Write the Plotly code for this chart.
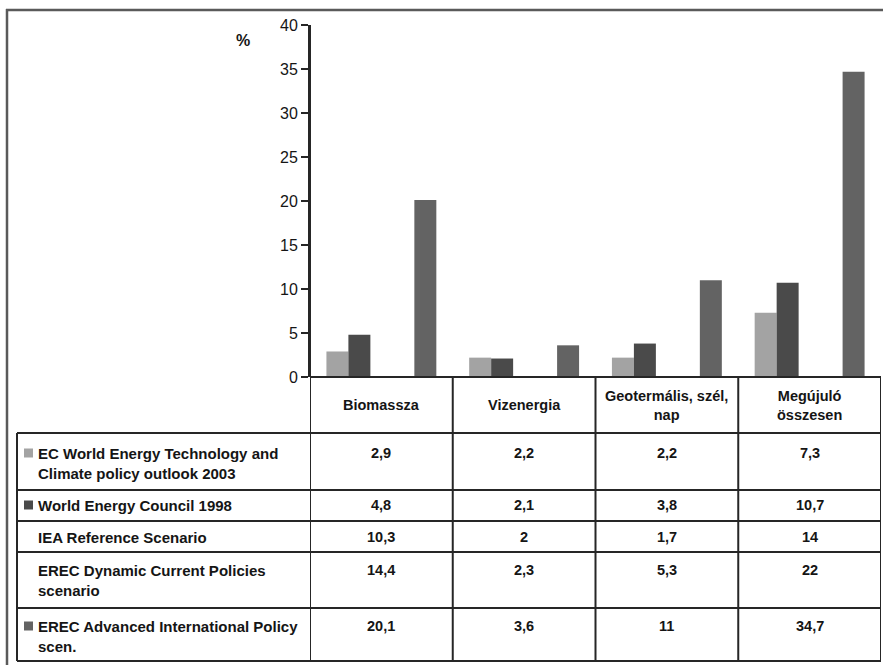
import plotly.graph_objects as go

# ---- data -------------------------------------------------------------
categories = ["Biomassza", "Vizenergia", "Geotermális, szél, nap", "Megújuló összesen"]
header_labels = ["Biomassza", "Vizenergia", "Geotermális, szél,<br>nap", "Megújuló<br>összesen"]

series_names = [
    "EC World Energy Technology and Climate policy outlook 2003",
    "World Energy Council 1998",
    "IEA Reference Scenario",
    "EREC Dynamic Current Policies scenario",
    "EREC Advanced International Policy scen.",
]
row_labels = [
    "EC World Energy Technology and<br>Climate policy outlook 2003",
    "World Energy Council 1998",
    "IEA Reference Scenario",
    "EREC Dynamic Current Policies<br>scenario",
    "EREC Advanced International Policy<br>scen.",
]
ec_2003 = [2.9, 2.2, 2.2, 7.3]
wec_1998 = [4.8, 2.1, 3.8, 10.7]
iea_ref = [10.3, 2, 1.7, 14]
erec_dynamic = [14.4, 2.3, 5.3, 22]
erec_advanced = [20.1, 3.6, 11, 34.7]
series_values = [ec_2003, wec_1998, iea_ref, erec_dynamic, erec_advanced]

y_ticks = [0, 5, 10, 15, 20, 25, 30, 35, 40]

# ---- styling ----------------------------------------------------------
series_colors = ["#a3a3a3", "#4a4a4a", None, None, "#636363"]
FONT = "Liberation Sans, Arial, sans-serif"
TEXT = "#151515"
LINE = "#262626"

W, H = 883, 665
L, R, T, B = 310, 2, 25, 288
PW, PH = W - L - R, H - T - B


def px(xp):
    return (xp - L) / PW


def py(yp):
    return (H - B - yp) / PH


fig = go.Figure()
for name, vals, col in zip(series_names, series_values, series_colors):
    fig.add_trace(go.Bar(
        x=categories, y=vals, name=name,
        marker=dict(color=col if col else "rgba(0,0,0,0)", line=dict(width=0)),
        showlegend=False,
    ))

shapes = []
annotations = []

# outer frame (left and top edges)
frame = dict(type="line", xref="paper", yref="paper",
             line=dict(color="#5a5a5a", width=2.5))
shapes.append(dict(frame, x0=px(7), x1=px(7), y0=py(9), y1=py(670)))
shapes.append(dict(frame, x0=px(6), x1=px(890), y0=py(10), y1=py(10)))

# table grid
row_tops = [433, 490, 521, 552, 608]
table_bottom = 661
header_top = H - B
label_left = 17
grid = dict(type="line", line=dict(color=LINE, width=2))
for yb in row_tops + [table_bottom]:
    shapes.append(dict(grid, xref="paper", yref="paper",
                       x0=px(label_left), x1=1, y0=py(yb), y1=py(yb)))
shapes.append(dict(grid, xref="paper", yref="paper",
                   x0=px(label_left), x1=px(label_left),
                   y0=py(row_tops[0]), y1=py(table_bottom)))
for i in range(len(categories) + 1):
    xb = i - 0.5
    shapes.append(dict(grid, xref="x", yref="paper", x0=xb, x1=xb,
                       y0=0 if i else 1, y1=py(table_bottom)))
shapes.append(dict(grid, xref="paper", yref="paper", x0=0, x1=1, y0=0, y1=0))

bold = dict(family=FONT, color=TEXT, weight="bold")

# header cells
for i, lab in enumerate(header_labels):
    annotations.append(dict(
        x=i, xref="x", y=py((header_top + row_tops[0]) / 2), yref="paper",
        text=lab, showarrow=False, xanchor="center", yanchor="middle",
        font=dict(bold, size=14.5), align="center",
    ))

# row labels, legend swatches and values
first_line = [453, 505, 537, 570, 626]
for r, (lab, vals, col) in enumerate(zip(row_labels, series_values, series_colors)):
    yc = first_line[r]
    annotations.append(dict(
        x=px(36), xref="paper", y=py(yc - 10), yref="paper",
        text=lab, showarrow=False, xanchor="left", yanchor="top",
        font=dict(bold, size=15), align="left",
    ))
    if col:
        shapes.append(dict(type="rect", xref="paper", yref="paper",
                           x0=px(24), x1=px(33), y0=py(yc - 4.5), y1=py(yc + 4.5),
                           fillcolor=col, line=dict(width=0)))
    for i, v in enumerate(vals):
        annotations.append(dict(
            x=i, xref="x", y=py(yc), yref="paper",
            text=f"{v:g}".replace(".", ","), showarrow=False,
            xanchor="center", yanchor="middle",
            font=dict(bold, size=14.5),
        ))

# unit label
annotations.append(dict(
    x=px(243), xref="paper", y=py(41), yref="paper", text="%",
    showarrow=False, xanchor="center", yanchor="middle",
    font=dict(bold, size=16),
))

fig.update_layout(
    width=W, height=H,
    margin=dict(l=L, r=R, t=T, b=B, pad=0),
    paper_bgcolor="white", plot_bgcolor="white",
    barmode="group", bargap=0.23, bargroupgap=0,
    shapes=shapes, annotations=annotations,
    xaxis=dict(showticklabels=False, showgrid=False, zeroline=False,
               showline=False, ticks="", range=[-0.5, 3.5]),
    yaxis=dict(range=[0, 40], tickvals=y_ticks, showgrid=False, zeroline=False,
               showline=True, linecolor=LINE, linewidth=2,
               ticks="outside", ticklen=7, tickwidth=1.5, tickcolor=LINE,
               tickfont=dict(family=FONT, size=16, color=TEXT)),
    font=dict(family=FONT, color=TEXT),
)

fig.write_html("out.html")
